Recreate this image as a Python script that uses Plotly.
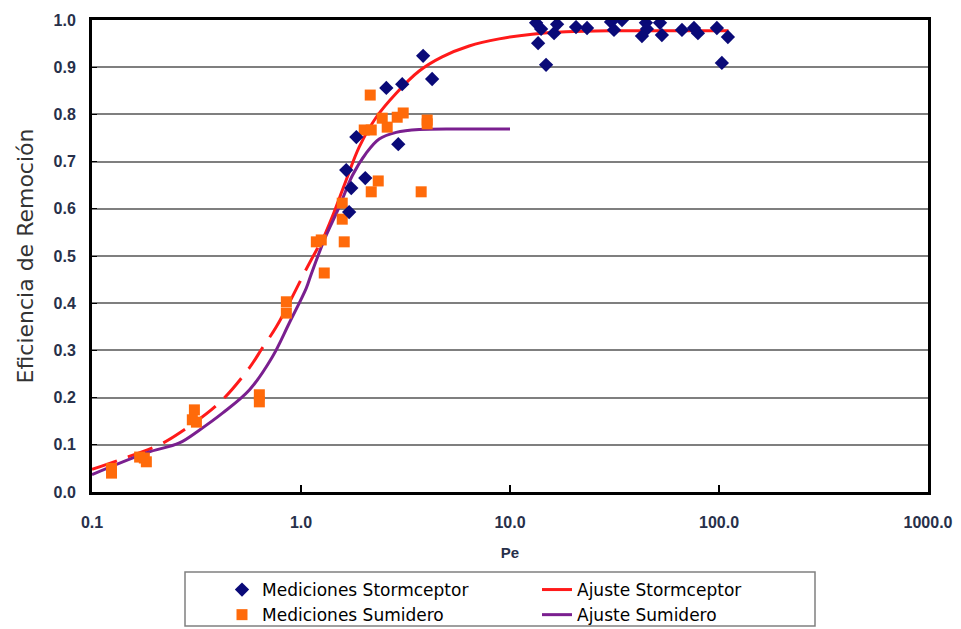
import plotly.graph_objects as go

# Measured removal efficiency vs Peclet number
storm_pe = [1.646, 1.740, 2.03, 1.70, 1.84, 2.56, 3.05, 3.84, 4.24, 2.92,
            13.33, 14.09, 13.63, 14.88, 16.25, 16.80, 20.70, 23.37, 30.43, 31.45,
            34.36, 44.7, 45.2, 42.8, 52.2, 53.3, 66.5, 75.9, 79.3, 97.7, 103.2, 110.3]
storm_eff = [0.682, 0.644, 0.665, 0.593, 0.752, 0.856, 0.864, 0.924, 0.875, 0.737,
             0.994, 0.981, 0.951, 0.905, 0.972, 0.991, 0.985, 0.983, 0.996, 0.979,
             1.000, 0.994, 0.981, 0.966, 0.994, 0.968, 0.979, 0.983, 0.972, 0.983, 0.909, 0.964]

sum_pe = [0.124, 0.124, 0.178, 0.182, 0.169, 0.309, 0.302, 0.316, 0.632, 0.632,
          0.851, 0.851, 1.292, 1.610, 1.575, 1.575, 1.184, 1.250, 2.168, 2.342,
          3.758, 4.015, 4.015, 2.007, 2.168, 2.447, 2.585, 2.886, 3.083, 2.144]
sum_eff = [0.050, 0.040, 0.072, 0.064, 0.074, 0.174, 0.153, 0.148, 0.206, 0.191,
           0.403, 0.379, 0.464, 0.530, 0.578, 0.612, 0.530, 0.534, 0.636, 0.659,
           0.636, 0.788, 0.780, 0.767, 0.767, 0.792, 0.773, 0.794, 0.803, 0.841]

# Fitted curves (Stormceptor: dashed below the measured range, solid within it)
fit_storm_pe_ext = [0.1, 0.1353, 0.210, 0.262, 0.407, 0.566, 0.653, 0.762, 0.982, 1.014, 1.30]
fit_storm_eff_ext = [0.048, 0.068, 0.100, 0.125, 0.189, 0.263, 0.305, 0.350, 0.443, 0.456, 0.545]
fit_storm_pe = [1.30, 1.411, 1.646, 1.900, 2.291, 2.855, 3.677, 4.736, 6.376, 8.87,
                12.76, 18.55, 30.0, 60.0, 111.0]
fit_storm_eff = [0.545, 0.583, 0.661, 0.731, 0.794, 0.845, 0.892, 0.922, 0.945, 0.960,
                 0.970, 0.975, 0.977, 0.977, 0.977]

fit_sum_pe = [0.1, 0.182, 0.262, 0.326, 0.421, 0.566, 0.729, 0.879, 1.060, 1.120,
              1.292, 1.524, 1.759, 2.051, 2.367, 2.855, 3.677, 6.376, 10.0]
fit_sum_eff = [0.037, 0.083, 0.104, 0.131, 0.167, 0.216, 0.286, 0.358, 0.432, 0.462,
               0.534, 0.604, 0.670, 0.718, 0.748, 0.762, 0.768, 0.769, 0.769]

x_tick_vals = [0.1, 1, 10, 100, 1000]
x_tick_text = ["0.1", "1.0", "10.0", "100.0", "1000.0"]

RED = "#ff1a1a"
PURPLE = "#7a1f8f"
NAVY = "#0a0a78"
ORANGE = "#ff6a0a"

fig = go.Figure()

fig.add_trace(go.Scatter(
    x=fit_storm_pe_ext, y=fit_storm_eff_ext, mode="lines",
    line=dict(color=RED, width=3, dash="26px,12px", shape="spline"),
    showlegend=False, hoverinfo="skip"))
fig.add_trace(go.Scatter(
    x=fit_storm_pe, y=fit_storm_eff, mode="lines", name="Ajuste Stormceptor",
    line=dict(color=RED, width=3, shape="spline"), legendrank=2))
fig.add_trace(go.Scatter(
    x=fit_sum_pe, y=fit_sum_eff, mode="lines", name="Ajuste Sumidero",
    line=dict(color=PURPLE, width=3, shape="spline"), legendrank=4))
fig.add_trace(go.Scatter(
    x=sum_pe, y=sum_eff, mode="markers", name="Mediciones Sumidero",
    marker=dict(symbol="square", size=11, color=ORANGE), legendrank=3))
fig.add_trace(go.Scatter(
    x=storm_pe, y=storm_eff, mode="markers", name="Mediciones Stormceptor",
    marker=dict(symbol="diamond", size=11, color=NAVY), legendrank=1))

tick_font = dict(family="Liberation Sans", size=16, color="#27304a", weight="bold")

# Legend frame
fig.add_shape(type="rect", xref="paper", yref="paper",
              x0=(185 - 92) / 836, x1=(815 - 92) / 836,
              y0=(492 - 626) / 472, y1=(492 - 572) / 472,
              line=dict(color="#808080", width=1.5), fillcolor="white", layer="below")

fig.update_layout(
    width=961, height=629,
    margin=dict(l=92, r=33, t=20, b=137, autoexpand=False),
    paper_bgcolor="white", plot_bgcolor="white",
    font=dict(family="Liberation Sans", color="black"),
    xaxis=dict(
        type="log", range=[-1, 3], automargin=False,
        tickvals=x_tick_vals, ticktext=x_tick_text,
        ticks="inside", ticklen=7, tickwidth=2, tickcolor="black",
        showline=True, linewidth=3, linecolor="black", mirror=True,
        showgrid=False, zeroline=False,
        tickfont=tick_font, ticklabelstandoff=14,
        title=dict(text="<b>Pe</b>", font=dict(family="Liberation Sans", size=15, color="#27304a"),
                   standoff=18),
    ),
    yaxis=dict(
        range=[0, 1], dtick=0.1, tickformat=".1f", automargin=False,
        ticks="inside", ticklen=5, tickwidth=1, tickcolor="black",
        showline=True, linewidth=3, linecolor="black", mirror=True,
        showgrid=True, gridcolor="#7f7f7f", gridwidth=1.5, zeroline=False,
        tickfont=tick_font, ticklabelstandoff=10,
        title=dict(text="Eficiencia de Remoción",
                   font=dict(family="DejaVu Sans", size=22, color="#333333"),
                   standoff=14),
    ),
    legend=dict(
        orientation="h", x=(222 - 92) / 836, y=(492 - 572) / 472,
        xanchor="left", yanchor="top",
        entrywidth=270, entrywidthmode="pixels",
        borderwidth=0, bgcolor="rgba(0,0,0,0)",
        font=dict(family="DejaVu Sans", size=17, color="black"),
        tracegroupgap=0, itemwidth=30,
    ),
)

fig.write_html("out.html")
